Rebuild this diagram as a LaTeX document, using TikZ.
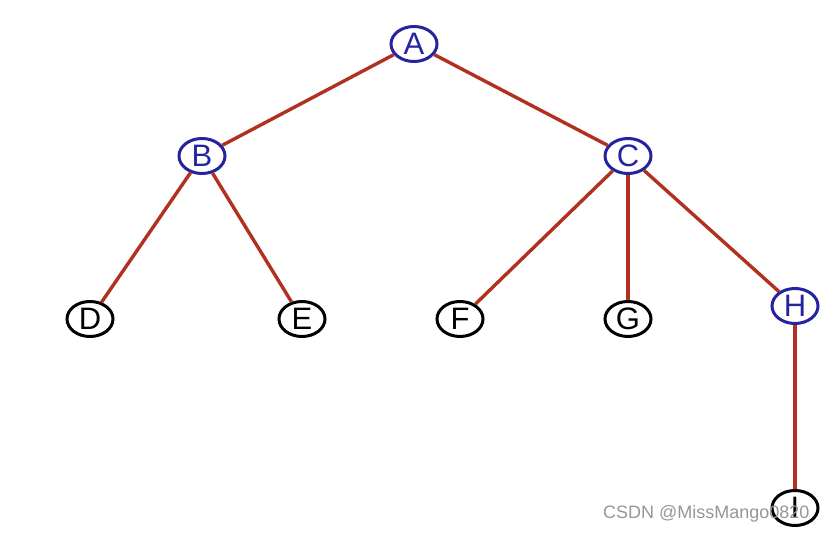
\documentclass[tikz,border=0pt]{standalone}
\usepackage{fontspec}
\setmainfont{Liberation Sans}
\usetikzlibrary{shapes.geometric}
\definecolor{edgecol}{RGB}{178,48,32}
\definecolor{bluecol}{RGB}{36,36,160}
\definecolor{wmcol}{RGB}{150,150,150}
\begin{document}
\begin{tikzpicture}[x=1pt,y=-1pt,
  tnode/.style={ellipse,draw,line width=3pt,minimum width=46pt,minimum height=35pt,inner sep=0pt,font=\fontsize{31}{31}\selectfont},
  bnode/.style={tnode,draw=bluecol,text=bluecol},
  knode/.style={tnode,draw=black,text=black},
  edge/.style={draw=edgecol,line width=3.4pt}]
\useasboundingbox (0,0) rectangle (828,534);
\node[bnode] (A) at (414,44) {A};
\node[bnode] (B) at (202,156) {B};
\node[bnode] (C) at (628,156) {C};
\node[knode] (D) at (90,319) {D};
\node[knode] (E) at (302,319) {E};
\node[knode] (F) at (460,319) {F};
\node[knode] (G) at (628,319) {G};
\node[bnode] (H) at (795,306) {H};
\node[knode] (I) at (795,508) {I};
\draw[edge] (A) -- (B);
\draw[edge] (A) -- (C);
\draw[edge] (B) -- (D);
\draw[edge] (B) -- (E);
\draw[edge] (C) -- (F);
\draw[edge] (C) -- (G);
\draw[edge] (C) -- (H);
\draw[edge] (H) -- (I);
\node[anchor=west,text=wmcol,font=\fontsize{18}{18}\selectfont,inner sep=0pt] (wm) at (603,514) {CSDN @MissMango0820};
\end{tikzpicture}
\end{document}
